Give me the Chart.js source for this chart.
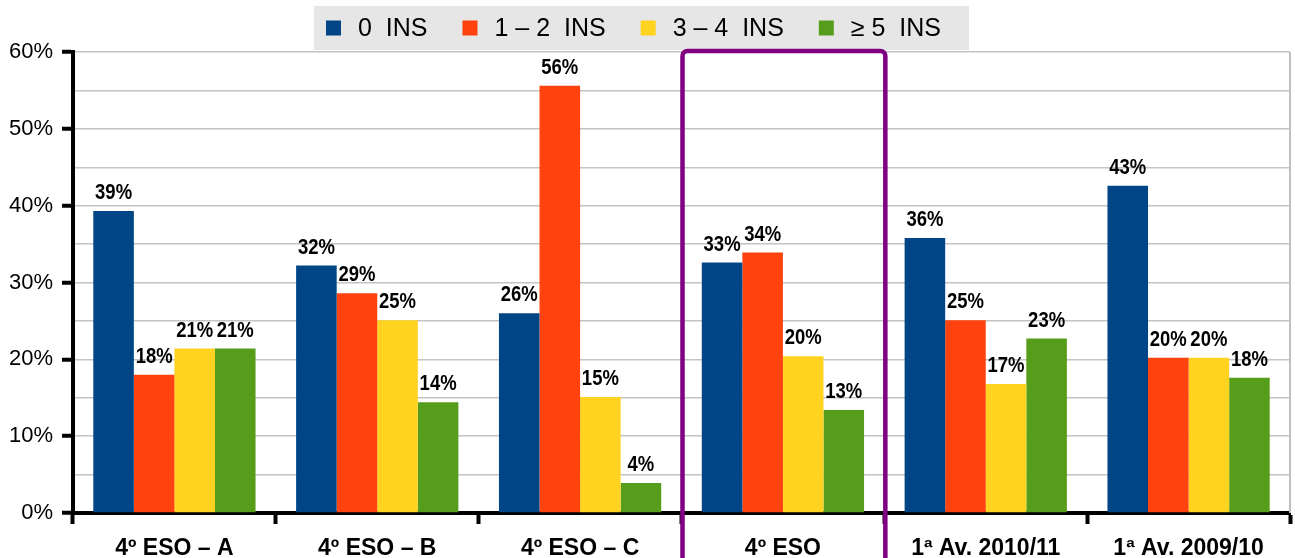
<!DOCTYPE html>
<html>
<head>
<meta charset="utf-8">
<script src="https://cdn.jsdelivr.net/npm/chart.js@4.4.0/dist/chart.umd.min.js"></script>
<style>
  html, body { margin: 0; padding: 0; background: #fff; }
  #wrap { width: 1295px; height: 558px; position: relative; }
</style>
</head>
<body>
<div id="wrap"><canvas id="chart"></canvas></div>
<script>
// categorias e séries (percentagens)
const categorias = ['4º ESO – A', '4º ESO – B', '4º ESO – C', '4º ESO', '1ª Av. 2010/11', '1ª Av. 2009/10'];
const series = ['0  INS', '1 – 2  INS', '3 – 4  INS', '≥ 5  INS'];
const ins0 = [39.3, 32.2, 26.0, 32.6, 35.8, 42.6];
const ins12 = [18.0, 28.6, 55.6, 33.9, 25.1, 20.2];
const ins34 = [21.4, 25.1, 15.1, 20.4, 16.8, 20.2];
const ins5 = [21.4, 14.4, 3.9, 13.4, 22.7, 17.6];
const yTicks = [0, 10, 20, 30, 40, 50, 60];
const destaque = 3; // categoria com a moldura roxa

const cores = ['#004586', '#ff420e', '#ffd320', '#579d1c'];
const valores = [ins0, ins12, ins34, ins5];

// legenda desenhada à mão, com fundo cinza
const legendaPlugin = {
    id: 'legenda',
    afterDraw(chart) {
        const ctx = chart.ctx;
        ctx.save();
        ctx.font = '25px "Liberation Sans", Arial, sans-serif';
        const caixa = 15, gapTxt = 17, gapItem = 35;
        let larg = 0;
        series.forEach((s, i) => {
            larg += caixa + gapTxt + ctx.measureText(s).width;
            if (i < series.length - 1) larg += gapItem;
        });
        const x0 = 326;
        ctx.fillStyle = '#e6e6e6';
        ctx.fillRect(x0 - 12, 6, larg + 12 + 28, 44);
        let x = x0;
        const cy = 28;
        ctx.textBaseline = 'middle';
        series.forEach((s, i) => {
            ctx.fillStyle = cores[i];
            ctx.fillRect(x, cy - 7.5, caixa, caixa);
            x += caixa + gapTxt;
            ctx.fillStyle = '#000';
            ctx.fillText(s, x, cy + 1);
            x += ctx.measureText(s).width + gapItem;
        });
        ctx.restore();
    }
};

// rótulos de percentagem por cima das barras (letra estreita)
const rotulosPlugin = {
    id: 'rotulos',
    afterDatasetsDraw(chart) {
        const ctx = chart.ctx;
        ctx.save();
        ctx.font = 'bold 22px "Liberation Sans", Arial, sans-serif';
        ctx.fillStyle = '#000';
        ctx.textAlign = 'center';
        ctx.textBaseline = 'alphabetic';
        chart.data.datasets.forEach((ds, i) => {
            chart.getDatasetMeta(i).data.forEach((bar, j) => {
                ctx.save();
                ctx.translate(bar.x, bar.y - 12);
                ctx.scale(0.84, 1);
                ctx.fillText(Math.round(ds.data[j]) + '%', 0, 0);
                ctx.restore();
            });
        });
        ctx.restore();
    }
};

// borda direita cinza e moldura roxa
const molduraPlugin = {
    id: 'moldura',
    beforeDatasetsDraw(chart) {
        const {ctx, chartArea} = chart;
        ctx.save();
        ctx.strokeStyle = '#c0c0c0';
        ctx.lineWidth = 2;
        ctx.beginPath();
        ctx.moveTo(chartArea.right, chartArea.top);
        ctx.lineTo(chartArea.right, chartArea.bottom);
        ctx.stroke();
        ctx.restore();
    },
    afterDraw(chart) {
        const {ctx, chartArea} = chart;
        const xs = chart.scales.x;
        const meio = xs.getPixelForValue(destaque);
        const w = xs.width / categorias.length;
        const l = meio - w / 2 + 1, r = meio + w / 2 + 1;
        const t = chartArea.top - 1, b = chart.height + 5, rad = 5;
        ctx.save();
        ctx.strokeStyle = '#800080';
        ctx.lineWidth = 4.5;
        ctx.beginPath();
        ctx.moveTo(l, b);
        ctx.lineTo(l, t + rad);
        ctx.arcTo(l, t, l + rad, t, rad);
        ctx.lineTo(r - rad, t);
        ctx.arcTo(r, t, r, t + rad, rad);
        ctx.lineTo(r, b);
        ctx.stroke();
        ctx.restore();
    }
};

const ctx = document.getElementById('chart').getContext('2d');

new Chart(ctx, {
    type: 'bar',
    data: {
        labels: categorias,
        datasets: series.map((s, i) => ({
            label: s,
            data: valores[i],
            backgroundColor: cores[i],
            borderWidth: 0,
            categoryPercentage: 0.8,
            barPercentage: 1.0
        }))
    },
    options: {
        responsive: true,
        maintainAspectRatio: false,
        animation: false,
        layout: { padding: { top: 52, right: 5, left: 0, bottom: 0 } },
        plugins: {
            legend: { display: false },
            tooltip: { enabled: false }
        },
        scales: {
            x: {
                grid: {
                    drawOnChartArea: false,
                    drawTicks: true,
                    tickLength: 11,
                    tickWidth: 4,
                    tickColor: '#000'
                },
                border: { color: '#000', width: 4 },
                ticks: {
                    color: '#000',
                    padding: 11,
                    font: { family: '"Liberation Sans", Arial, sans-serif', size: 23, weight: 'bold' }
                },
                afterFit(scale) { scale.height = 45; }
            },
            y: {
                min: 0,
                max: 60,
                ticks: {
                    stepSize: 5,
                    color: '#000',
                    padding: 9,
                    font: { family: '"Liberation Sans", Arial, sans-serif', size: 22 },
                    callback: v => yTicks.includes(v) ? v + '%' : ''
                },
                grid: {
                    color: '#c4c4c4',
                    lineWidth: 1.5,
                    tickLength: 11,
                    tickWidth: 4,
                    tickColor: c => (c.tick && yTicks.includes(c.tick.value)) ? '#000' : 'rgba(0,0,0,0)'
                },
                border: { color: '#000', width: 4 },
                afterFit(scale) { scale.width = 73; }
            }
        }
    },
    plugins: [legendaPlugin, rotulosPlugin, molduraPlugin]
});
</script>
</body>
</html>
